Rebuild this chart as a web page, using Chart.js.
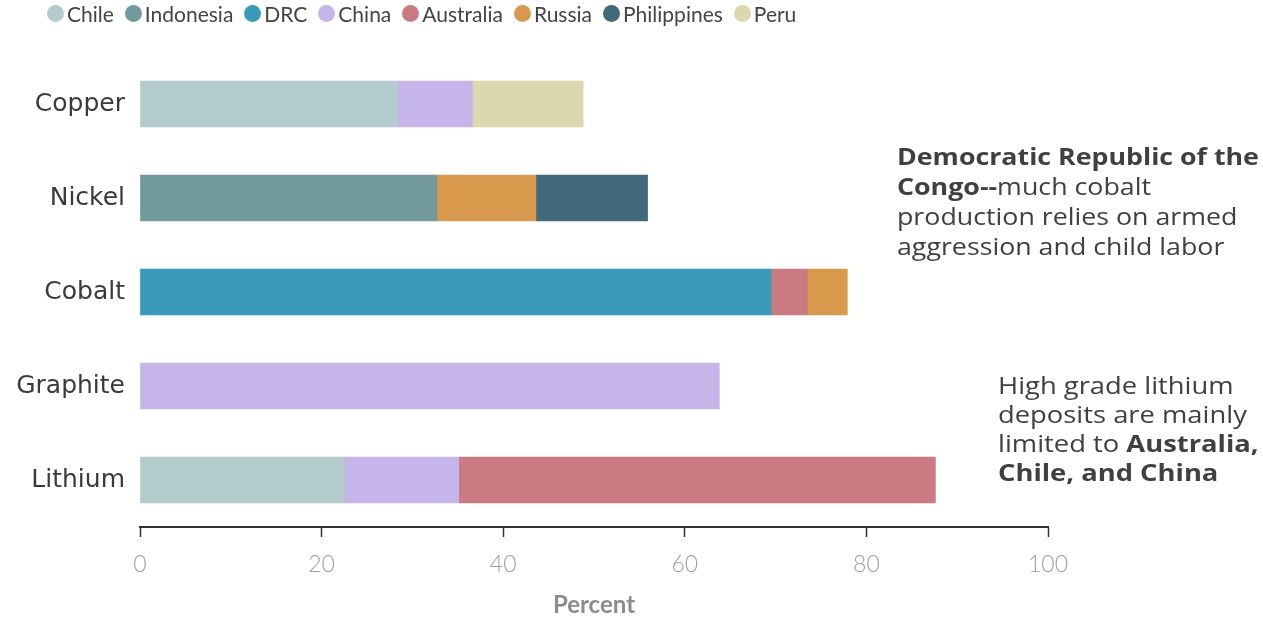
<!DOCTYPE html>
<html lang="en">
<head>
    <meta charset="UTF-8">
    <title>Critical minerals production share</title>
    <script src="https://cdn.jsdelivr.net/npm/chart.js"></script>
    <style>
        body {
            margin: 0;
            background: #fff;
            font-family: 'Lato', sans-serif;
        }

        .wrap {
            position: relative;
            width: 1263px;
            height: 623px;
        }

        #chart {
            position: absolute;
            left: 0;
            top: 0;
        }

        .legend {
            position: absolute;
            left: 47px;
            top: 1px;
            display: flex;
            font-size: 21px;
            color: #444;
            white-space: nowrap;
        }

        .legend span {
            display: flex;
            align-items: center;
            margin-right: 11px;
        }

        .legend i {
            display: inline-block;
            width: 17px;
            height: 17px;
            border-radius: 50%;
            margin-right: 3px;
        }

        .note {
            position: absolute;
            font-family: 'Open Sans', sans-serif;
            font-size: 24px;
            color: #404040;
            white-space: nowrap;
            transform-origin: left top;
        }
    </style>
</head>
<body>
<div class="wrap">
    <canvas id="chart" width="1263" height="623"></canvas>
    <div class="legend" id="legend"></div>
    <div class="note" style="left:897px; top:141px; line-height:30px; transform:scaleX(1.115);">
        <b>Democratic Republic of the</b><br>
        <b>Congo--</b>much cobalt<br>
        production relies on armed<br>
        aggression and child labor
    </div>
    <div class="note" style="left:998px; top:370px; line-height:29px; transform:scaleX(1.14);">
        High grade lithium<br>
        deposits are mainly<br>
        limited to <b>Australia,</b><br>
        <b>Chile, and China</b>
    </div>
</div>

<script>
    // minerals (rows)
    var minerals = ['Copper', 'Nickel', 'Cobalt', 'Graphite', 'Lithium'];

    // share of world production by country, percent, per mineral (null = not shown)
    var chile       = [28.4, null, null, null, 22.5];
    var indonesia   = [null, 32.7, null, null, null];
    var drc         = [null, null, 69.5, null, null];
    var china       = [8.2, null, null, 63.8, 12.6];
    var australia   = [null, null, 4.0, null, 52.5];
    var russia      = [null, 10.9, 4.4, null, null];
    var philippines = [null, 12.3, null, null, null];
    var peru        = [12.2, null, null, null, null];

    var countries = ['Chile', 'Indonesia', 'DRC', 'China', 'Australia', 'Russia', 'Philippines', 'Peru'];
    var colors = ['#b3cbcb', '#72999b', '#3a9aba', '#c5b5e8', '#cc7a82', '#d9994c', '#41697a', '#ddd7b0'];
    var values = [chile, indonesia, drc, china, australia, russia, philippines, peru];

    var xTicks = [0, 20, 40, 60, 80, 100];

    var datasets = [];
    for (var i = 0; i < countries.length; i++) {
        datasets.push({
            label: countries[i],
            data: values[i],
            backgroundColor: colors[i],
            borderWidth: 0,
            barThickness: 46
        });
    }

    // html legend
    var legendHtml = '';
    for (var i = 0; i < countries.length; i++) {
        legendHtml += '<span><i style="background:' + colors[i] + '"></i>' + countries[i] + '</span>';
    }
    document.getElementById('legend').innerHTML = legendHtml;

    new Chart(document.getElementById('chart'), {
        type: 'bar',
        data: {
            labels: minerals,
            datasets: datasets
        },
        options: {
            indexAxis: 'y',
            responsive: false,
            animation: false,
            layout: {
                padding: { top: 57, right: 215, left: 0, bottom: 0 }
            },
            plugins: {
                legend: { display: false },
                tooltip: { enabled: false }
            },
            scales: {
                x: {
                    stacked: true,
                    min: 0,
                    max: 100,
                    afterBuildTicks: function (scale) {
                        scale.ticks = xTicks.map(function (v) { return { value: v }; });
                    },
                    afterFit: function (scale) {
                        scale.height = 96;
                    },
                    grid: {
                        drawOnChartArea: false,
                        drawTicks: true,
                        tickLength: 10,
                        tickWidth: 1.5,
                        tickColor: '#333'
                    },
                    border: { display: true, color: '#333', width: 2 },
                    ticks: {
                        color: '#a0a0a0',
                        padding: 14,
                        font: { family: 'Lato', size: 23, weight: '300' }
                    },
                    title: {
                        display: true,
                        text: 'Percent',
                        color: '#8c8c8c',
                        padding: { top: 4, bottom: 3 },
                        font: { family: 'Lato', size: 24, weight: 'bold' }
                    }
                },
                y: {
                    stacked: true,
                    afterFit: function (scale) {
                        scale.width = 140;
                    },
                    grid: { display: false },
                    border: { display: false },
                    ticks: {
                        color: '#3a3a3a',
                        padding: 7,
                        font: { family: 'DejaVu Sans', size: 25 }
                    }
                }
            }
        }
    });
</script>
</body>
</html>
